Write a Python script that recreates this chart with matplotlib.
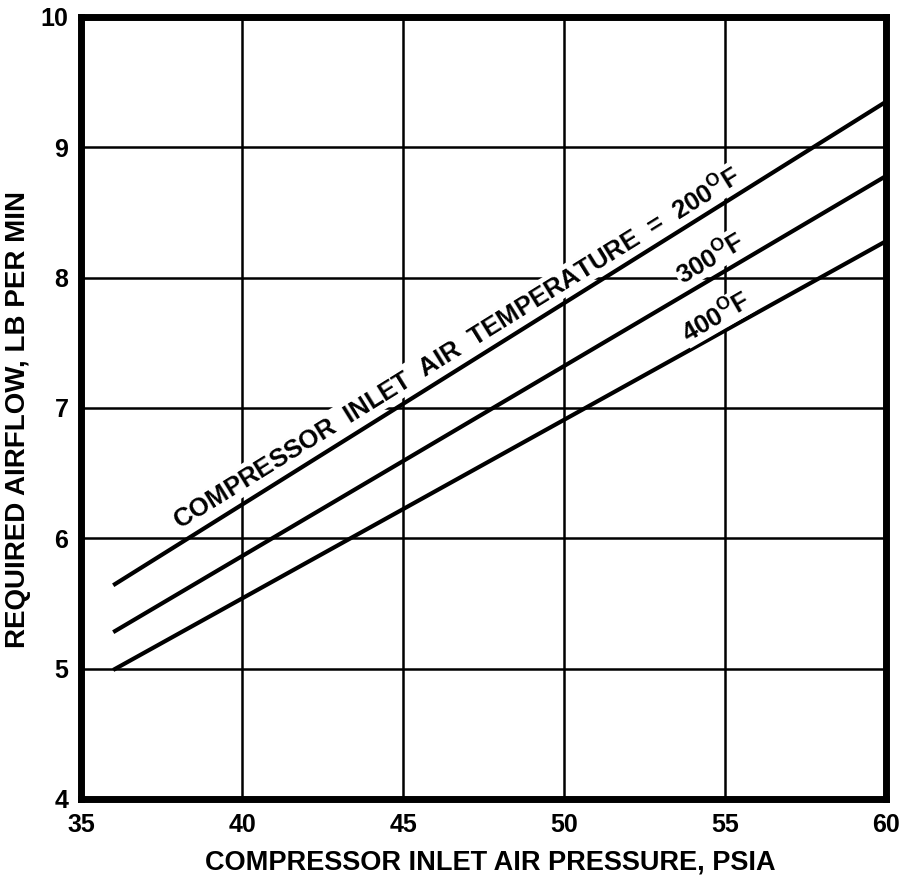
import matplotlib
matplotlib.use('Agg')
import matplotlib.pyplot as plt

plt.rcParams['font.family'] = ['Liberation Sans', 'DejaVu Sans']
plt.rcParams['font.weight'] = 'bold'
plt.rcParams['mathtext.fontset'] = 'custom'
plt.rcParams['mathtext.rm'] = 'Liberation Sans:bold'

# compressor inlet air pressure, psia (line end points)
pressure = [36, 60]

# required airflow, lb per min, for each inlet temperature
airflow_200 = [5.64, 9.35]
airflow_300 = [5.28, 8.78]
airflow_400 = [4.99, 8.28]

x_ticks = [35, 40, 45, 50, 55, 60]
y_ticks = [4, 5, 6, 7, 8, 9, 10]

fig = plt.figure(figsize=(9.04, 8.76), dpi=100)
ax = fig.add_axes([0.0896, 0.0879, 0.8905, 0.8927])

ax.set_xlim(35, 60)
ax.set_ylim(4, 10)
ax.set_xticks(x_ticks)
ax.set_yticks(y_ticks)
ax.grid(True, color='black', linewidth=1.8)
ax.set_axisbelow(True)

for s in ax.spines.values():
    s.set_linewidth(5)

ax.tick_params(length=0, labelsize=18)
ax.tick_params(axis='y', pad=9)
ax.tick_params(axis='x', pad=10)
for lab in ax.get_xticklabels() + ax.get_yticklabels():
    lab.set_fontweight('bold')

ax.plot(pressure, airflow_200, color='black', linewidth=3, solid_capstyle='butt')
ax.plot(pressure, airflow_300, color='black', linewidth=3, solid_capstyle='butt')
ax.plot(pressure, airflow_400, color='black', linewidth=3, solid_capstyle='butt')

# labels sit along the curves, drawn on white so the grid breaks under them
box = dict(facecolor='white', edgecolor='none', pad=0.5)
ax.text(46.65, 7.46, r'COMPRESSOR  INLET  AIR  TEMPERATURE  =  200$^{\mathrm{O}}$F',
        rotation=31.8, rotation_mode='anchor', ha='center', va='center',
        fontsize=18.5, fontweight='bold', bbox=box)
ax.text(54.53, 8.15, r'300$^{\mathrm{O}}$F', rotation=31, rotation_mode='anchor',
        ha='center', va='center', fontsize=18.5, fontweight='bold', bbox=box)
ax.text(54.72, 7.70, r'400$^{\mathrm{O}}$F', rotation=30, rotation_mode='anchor',
        ha='center', va='center', fontsize=18.5, fontweight='bold', bbox=box)

ax.set_xlabel('COMPRESSOR INLET AIR PRESSURE, PSIA', fontsize=19.5, fontweight='bold')
ax.set_ylabel('REQUIRED AIRFLOW, LB PER MIN', fontsize=20, fontweight='bold')
ax.xaxis.set_label_coords(0.509, -0.064)
ax.yaxis.set_label_coords(-0.062, 0.485)

fig.savefig('out.png', dpi=100)
